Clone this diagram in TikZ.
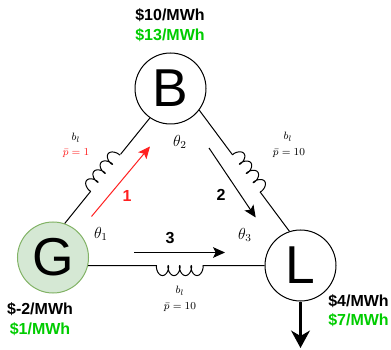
\documentclass[tikz,border=0pt]{standalone}
\usepackage{fontspec}
\setmainfont{Liberation Sans}
\usetikzlibrary{calc,arrows.meta}
\definecolor{gruen}{HTML}{00CC00}
\definecolor{rot}{HTML}{FF2020}
\definecolor{gfill}{HTML}{D5E8D4}
\definecolor{gline}{HTML}{82B366}
\tikzset{
	bus/.style={draw,circle,fill=white,line width=0.75pt,minimum size=53.25pt,inner sep=0pt,font=\fontsize{40}{40}\selectfont},
	preis/.style={inner sep=0pt,font=\fontsize{12}{12}\selectfont\bfseries},
	nummer/.style={inner sep=0pt,font=\fontsize{12}{12}\selectfont\bfseries},
	klein/.style={inner sep=0pt,font=\fontsize{8.5}{8.5}\selectfont},
	winkel/.style={inner sep=0pt,font=\fontsize{12}{12}\selectfont},
	spule/.pic={
		\draw[line width=0.75pt] plot[domain=0:25.133,samples=120,smooth] ({11.5*\x/6.2832-2.5*sin(\x r)},{5*(1-cos(\x r))});
	}
}
\begin{document}
\begin{tikzpicture}[x=0.75pt,y=0.75pt,line width=0.75pt]

\def\leitung#1#2#3#4{
	\coordinate (s1) at ($(#1)!#3!(#2)$);
	\coordinate (s2) at ($(#1)!#4!(#2)$);
	\draw (#1) -- (s1);
	\draw (s2) -- (#2);
	\path (s1) -- pic[pos=0,sloped,allow upside down]{spule} (s2);
}

\useasboundingbox (0,0) rectangle (391,349);

\node[bus] (B) at (170.5,260.5) {B};
\node[bus,draw=gline,fill=gfill] (G) at (53,91.5) {G};
\node[bus] (L) at (300.5,83.5) {L};

\leitung{G.71}{B.235}{0.306}{0.655}
\leitung{B.-37}{L.108}{0.37}{0.674}
\leitung{L.west}{G.-13}{0.35}{0.61}

\coordinate (f1a) at (91.5,132.5);
\coordinate (f1b) at (150,202.5);
\coordinate (f2a) at (209,201);
\coordinate (f2b) at (255.7,131.5);
\coordinate (f3a) at (134,96.5);
\coordinate (f3b) at (225,96.5);
\coordinate (last) at (300.5,1);

\draw[-{Stealth[length=9pt,width=8pt,inset=2pt]},color=rot] (f1a) -- (f1b);
\draw[-{Stealth[length=9pt,width=8pt,inset=2pt]}] (f2a) -- (f2b);
\draw[-{Stealth[length=9pt,width=8pt,inset=2pt]}] (f3a) -- (f3b);
\draw[-{Stealth[length=13pt,width=14pt,inset=4pt]},line width=2.2pt] (L.south) -- (last);

\node[nummer,color=rot] (n1) at (127,153) {1};
\node[nummer] (n2) at (221,154) {2};
\node[nummer] (n3) at (170,111) {3};

\node[winkel] (t1) at (101,115) {$\theta_1$};
\node[winkel] (t2) at (180,207) {$\theta_2$};
\node[winkel] (t3) at (245,114) {$\theta_3$};

\node[klein] (b1) at (76,211) {$b_l$};
\node[klein,color=rot] (p1) at (76,196) {$\bar{p}=1$};
\node[klein] (b2) at (288,212) {$b_l$};
\node[klein] (p2) at (289,196) {$\bar{p}=10$};
\node[klein] (b3) at (180,58) {$b_l$};
\node[klein] (p3) at (180,42) {$\bar{p}=10$};

\node[preis] (pb1) at (170,334) {\$10/MWh};
\node[preis,color=gruen] (pb2) at (170,314) {\$13/MWh};
\node[preis] (pg1) at (40,40) {\$-2/MWh};
\node[preis,color=gruen] (pg2) at (40,20) {\$1/MWh};
\node[preis] (pl1) at (358.5,48) {\$4/MWh};
\node[preis,color=gruen] (pl2) at (358.5,29) {\$7/MWh};

\end{tikzpicture}
\end{document}
